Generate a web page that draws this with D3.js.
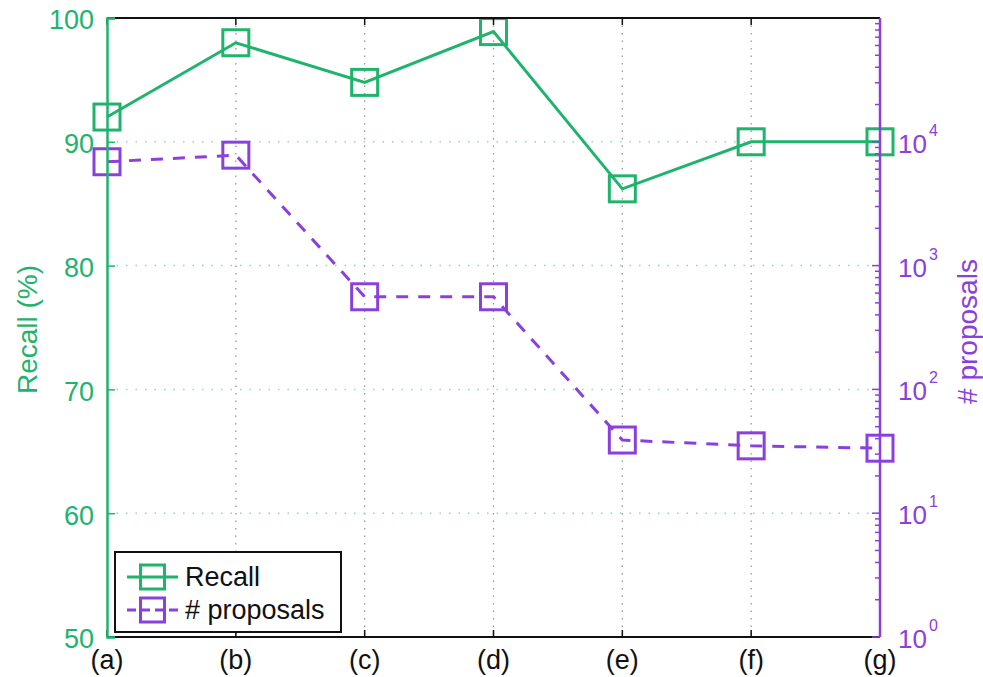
<!DOCTYPE html>
<html>
<head>
<meta charset="utf-8">
<script src="https://cdn.jsdelivr.net/npm/d3@7"></script>
<style>
  html, body { margin: 0; padding: 0; background: #fff; }
  svg { display: block; font-family: "Liberation Sans", Arial, Helvetica, sans-serif; }
</style>
</head>
<body>
<svg id="chart" width="983" height="677"></svg>
<script>
// Configurations (a)–(g)
const categories = ["(a)", "(b)", "(c)", "(d)", "(e)", "(f)", "(g)"];
// Recall in percent for each configuration
const recall = [92, 98, 94.8, 98.9, 86.2, 90, 90];
// Number of proposals (log scale)
const proposals = [6900, 7800, 560, 560, 39, 35, 33.5];
// Tick labels
const recallTicks = [50, 60, 70, 80, 90, 100];
const proposalExponents = [0, 1, 2, 3, 4];

const GREEN = "#1fb36c";
const PURPLE = "#8a41dc";
const FONT = 27;

const svg = d3.select("#chart");
const m = { left: 107, right: 880, top: 18, bottom: 637 };

const x = d3.scalePoint().domain(categories).range([m.left, m.right]).padding(0);
const yL = d3.scaleLinear().domain([50, 100]).range([m.bottom, m.top]);
const yR = d3.scaleLog().domain([1, 1e5]).range([m.bottom, m.top]);

// Grid: vertical dotted gray lines at interior categories
svg.append("g").selectAll("line")
  .data(categories.slice(1, -1))
  .join("line")
  .attr("x1", d => x(d)).attr("x2", d => x(d))
  .attr("y1", m.top).attr("y2", m.bottom)
  .attr("stroke", "#9a9a9a").attr("stroke-width", 1.3)
  .attr("stroke-dasharray", "1.5,6");

// Grid: horizontal dotted lines at recall ticks
svg.append("g").selectAll("line")
  .data(recallTicks.slice(1, -1))
  .join("line")
  .attr("x1", m.left).attr("x2", m.right)
  .attr("y1", d => yL(d)).attr("y2", d => yL(d))
  .attr("stroke", "#86dcbc").attr("stroke-width", 1.5)
  .attr("stroke-dasharray", "1.5,8");

// Series
function drawSeries(values, yScale, color, dash) {
  const line = d3.line().x((d, i) => x(categories[i])).y(d => yScale(d));
  svg.append("path")
    .datum(values)
    .attr("d", line)
    .attr("fill", "none")
    .attr("stroke", color)
    .attr("stroke-width", 3)
    .attr("stroke-linejoin", "miter")
    .attr("stroke-dasharray", dash);
  const s = 26;
  svg.append("g").selectAll("rect")
    .data(values)
    .join("rect")
    .attr("x", (d, i) => x(categories[i]) - s / 2)
    .attr("y", d => yScale(d) - s / 2)
    .attr("width", s).attr("height", s)
    .attr("fill", "none")
    .attr("stroke", color)
    .attr("stroke-width", 3);
}
drawSeries(proposals, yR, PURPLE, "12,10");
drawSeries(recall, yL, GREEN, null);

// Top and bottom frame with category ticks
const frame = svg.append("g");
frame.append("line").attr("x1", m.left).attr("x2", m.right).attr("y1", m.top).attr("y2", m.top)
  .attr("stroke", "#111").attr("stroke-width", 2);
frame.append("line").attr("x1", m.left).attr("x2", m.right).attr("y1", m.bottom).attr("y2", m.bottom)
  .attr("stroke", "#111").attr("stroke-width", 2);
frame.selectAll("line.xt")
  .data(categories)
  .join("line")
  .attr("class", "xt")
  .attr("x1", d => x(d)).attr("x2", d => x(d))
  .attr("y1", m.top).attr("y2", m.top + 7)
  .attr("stroke", "#111").attr("stroke-width", 1.5);
frame.selectAll("line.xb")
  .data(categories)
  .join("line")
  .attr("class", "xb")
  .attr("x1", d => x(d)).attr("x2", d => x(d))
  .attr("y1", m.bottom).attr("y2", m.bottom - 7)
  .attr("stroke", "#111").attr("stroke-width", 1.5);

// Category labels
svg.append("g").selectAll("text")
  .data(categories)
  .join("text")
  .attr("x", d => x(d)).attr("y", 669)
  .attr("text-anchor", "middle")
  .attr("font-size", FONT)
  .attr("fill", "#111")
  .text(d => d);

// Left axis (recall)
const leftAxis = d3.axisLeft(yL).tickValues(recallTicks).tickSize(-8).tickPadding(13);
const gL = svg.append("g").attr("transform", `translate(${m.left},0)`).call(leftAxis);
gL.select(".domain").attr("stroke", GREEN).attr("stroke-width", 2.5);
gL.selectAll(".tick line").attr("stroke", GREEN).attr("stroke-width", 1.5);
gL.selectAll(".tick text").attr("fill", GREEN).attr("font-size", FONT)
  .attr("font-family", "Liberation Sans, Arial, sans-serif")
  .attr("dy", "0.4em");

svg.append("text")
  .attr("transform", `translate(37,${(m.top + m.bottom) / 2 + 2}) rotate(-90)`)
  .attr("text-anchor", "middle")
  .attr("font-size", FONT + 1)
  .attr("fill", GREEN)
  .text("Recall (%)");

// Right axis (log proposals) with minor ticks
const majorVals = proposalExponents.map(e => Math.pow(10, e));
const minorVals = [];
for (let e = 0; e < 5; e++) for (let k = 2; k <= 9; k++) minorVals.push(k * Math.pow(10, e));
const gR = svg.append("g").attr("transform", `translate(${m.right},0)`);
gR.append("line").attr("x1", 0).attr("x2", 0).attr("y1", m.top).attr("y2", m.bottom)
  .attr("stroke", PURPLE).attr("stroke-width", 2.5);
gR.selectAll("line.mj").data(majorVals).join("line").attr("class", "mj")
  .attr("x1", 0).attr("x2", -8).attr("y1", d => yR(d)).attr("y2", d => yR(d))
  .attr("stroke", PURPLE).attr("stroke-width", 1.5);
gR.selectAll("line.mn").data(minorVals).join("line").attr("class", "mn")
  .attr("x1", 0).attr("x2", -5).attr("y1", d => yR(d)).attr("y2", d => yR(d))
  .attr("stroke", PURPLE).attr("stroke-width", 1.5);
const lbl = gR.selectAll("text.rl").data(proposalExponents).join("text").attr("class", "rl")
  .attr("x", 18).attr("y", e => yR(Math.pow(10, e)) + 11)
  .attr("font-size", 26).attr("fill", PURPLE);
lbl.append("tspan").text("10");
lbl.append("tspan").attr("font-size", 16).attr("dy", -17).attr("dx", 2).text(e => e);

svg.append("text")
  .attr("transform", `translate(977,${(m.top + m.bottom) / 2 + 4}) rotate(-90)`)
  .attr("text-anchor", "middle")
  .attr("font-size", FONT + 1)
  .attr("fill", PURPLE)
  .text("# proposals");

// Legend
const lg = svg.append("g").attr("transform", "translate(115,552)");
lg.append("rect").attr("x", 0).attr("y", 0).attr("width", 226).attr("height", 80)
  .attr("fill", "#fff").attr("stroke", "#111").attr("stroke-width", 2);
const legendItems = [
  { name: "Recall", color: GREEN, dash: null },
  { name: "# proposals", color: PURPLE, dash: "9,5" }
];
legendItems.forEach((it, i) => {
  const cy = 25 + i * 33;
  lg.append("line").attr("x1", 12).attr("x2", 63).attr("y1", cy).attr("y2", cy)
    .attr("stroke", it.color).attr("stroke-width", 3)
    .attr("stroke-dasharray", it.dash);
  lg.append("rect").attr("x", 37.5 - 12).attr("y", cy - 12).attr("width", 24).attr("height", 24)
    .attr("fill", "none").attr("stroke", it.color).attr("stroke-width", 3);
  lg.append("text").attr("x", 70).attr("y", cy + 9).attr("font-size", FONT)
    .attr("fill", "#111")
    .text(it.name);
});
</script>
</body>
</html>
